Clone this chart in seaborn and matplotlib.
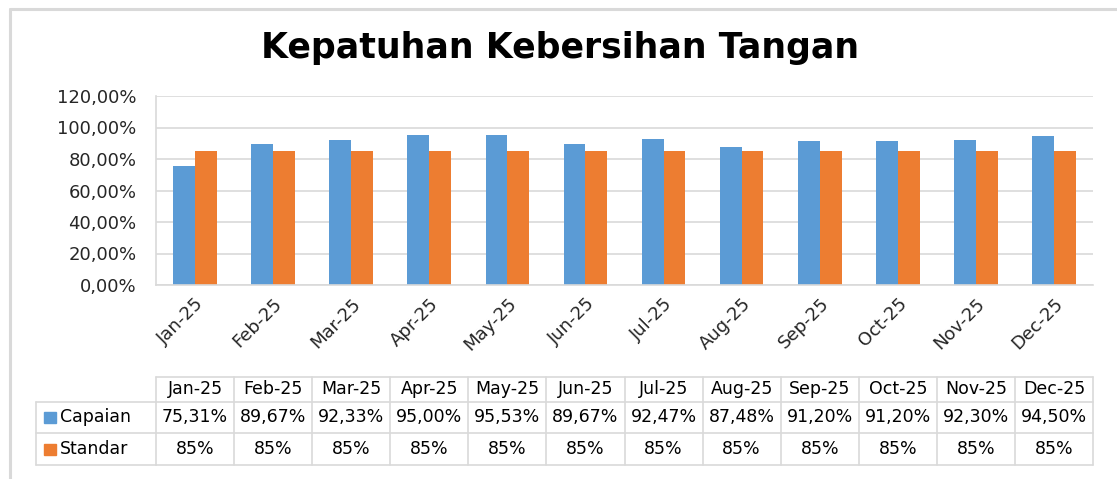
import matplotlib
matplotlib.use("Agg")
import matplotlib.pyplot as plt
import matplotlib.transforms as mtransforms
from matplotlib.lines import Line2D
from matplotlib.patches import Rectangle
import seaborn as sns
import pandas as pd

months = ["Jan-25", "Feb-25", "Mar-25", "Apr-25", "May-25", "Jun-25",
          "Jul-25", "Aug-25", "Sep-25", "Oct-25", "Nov-25", "Dec-25"]
capaian = [75.31, 89.67, 92.33, 95.00, 95.53, 89.67, 92.47, 87.48, 91.20, 91.20, 92.30, 94.50]
standar = [85, 85, 85, 85, 85, 85, 85, 85, 85, 85, 85, 85]
capaian_labels = ["75,31%", "89,67%", "92,33%", "95,00%", "95,53%", "89,67%",
                  "92,47%", "87,48%", "91,20%", "91,20%", "92,30%", "94,50%"]
standar_labels = ["85%"] * 12
series_names = ["Capaian", "Standar"]
yticks = [0, 20, 40, 60, 80, 100, 120]
title = "Kepatuhan Kebersihan Tangan"

BLUE = "#5B9BD5"
ORANGE = "#ED7D31"
GRID = "#D9D9D9"
TXT = "#262626"

df = pd.DataFrame({
    "Bulan": months * 2,
    "Seri": [series_names[0]] * 12 + [series_names[1]] * 12,
    "Nilai": capaian + standar,
})

sns.set_theme(style="white")
plt.rcParams["font.family"] = ["DejaVu Sans"]

W, H = 1117, 479
fig = plt.figure(figsize=(W / 100, H / 100), dpi=100)
fig.patch.set_facecolor("white")

def fx(px):
    return px / W

def fy(py):
    return 1 - py / H

ax = fig.add_axes([fx(156), fy(285), fx(1093) - fx(156), fy(96) - fy(285)])
sns.barplot(data=df, x="Bulan", y="Nilai", hue="Seri", order=months,
            hue_order=series_names, palette=[BLUE, ORANGE], saturation=1,
            width=0.56, ax=ax, legend=False, linewidth=0)

ax.set_ylim(0, 120)
ax.set_xlim(-0.5, 11.5)
ax.set_yticks(yticks)
ax.set_yticklabels([f"{v:.2f}".replace(".", ",") + "%" for v in yticks],
                   fontsize=13, color=TXT)
ax.yaxis.grid(True, color=GRID, linewidth=1.2)
ax.set_axisbelow(True)
ax.set_xlabel("")
ax.set_ylabel("")
ax.tick_params(axis="y", length=0, pad=14)
ax.tick_params(axis="x", length=0, pad=7)
ax.set_xticks(range(len(months)))
ax.set_xticklabels(months, rotation=45, ha="right", va="top",
                   rotation_mode="anchor", fontsize=13, color=TXT)
for s in ["top", "right"]:
    ax.spines[s].set_visible(False)
for s in ["left", "bottom"]:
    ax.spines[s].set_color(GRID)
    ax.spines[s].set_linewidth(1.2)

# Title
fig.text(fx(560), fy(48), title, ha="center", va="center", fontsize=25,
         fontweight="bold", color="black")

# Outer border (top and left)
fig.add_artist(Line2D([fx(10), 1], [fy(9), fy(9)], color=GRID, lw=2.2,
                      transform=fig.transFigure))
fig.add_artist(Line2D([fx(10), fx(10)], [fy(9), 0], color=GRID, lw=2.2,
                      transform=fig.transFigure))

# Data table
blend = mtransforms.blended_transform_factory(ax.transData, fig.transFigure)
y_hdr_top, y_r1, y_r2, y_bot = fy(377), fy(402), fy(433), fy(465)
x_left_px = 36
n = len(months)
lw = 1.2
fig.add_artist(Line2D([-0.5, n - 0.5], [y_hdr_top, y_hdr_top], color=GRID, lw=lw, transform=blend))
for yy in [y_r1, y_r2, y_bot]:
    fig.add_artist(Line2D([-0.5, n - 0.5], [yy, yy], color=GRID, lw=lw, transform=blend))
    fig.add_artist(Line2D([fx(x_left_px), fx(156)], [yy, yy], color=GRID, lw=lw,
                          transform=fig.transFigure))
fig.add_artist(Line2D([fx(x_left_px), fx(x_left_px)], [y_r1, y_bot], color=GRID, lw=lw,
                      transform=fig.transFigure))
for i in range(n + 1):
    fig.add_artist(Line2D([i - 0.5, i - 0.5], [y_hdr_top, y_bot], color=GRID, lw=lw,
                          transform=blend))
for i, m in enumerate(months):
    fig.text(i, (y_hdr_top + y_r1) / 2, m, transform=blend, ha="center", va="center",
             fontsize=12.5, color="black")
    fig.text(i, (y_r1 + y_r2) / 2, capaian_labels[i], transform=blend, ha="center",
             va="center", fontsize=12.5, color="black")
    fig.text(i, (y_r2 + y_bot) / 2, standar_labels[i], transform=blend, ha="center",
             va="center", fontsize=12.5, color="black")
for (yt, yb), name, col in [((y_r1, y_r2), series_names[0], BLUE),
                            ((y_r2, y_bot), series_names[1], ORANGE)]:
    yc = (yt + yb) / 2
    fig.add_artist(Rectangle((fx(44), yc - 5.5 / H), 12 / W, 11 / H, color=col,
                             transform=fig.transFigure))
    fig.text(fx(60), yc, name, ha="left", va="center", fontsize=12.5, color="black")

fig.savefig("out.png", dpi=100, facecolor="white")
